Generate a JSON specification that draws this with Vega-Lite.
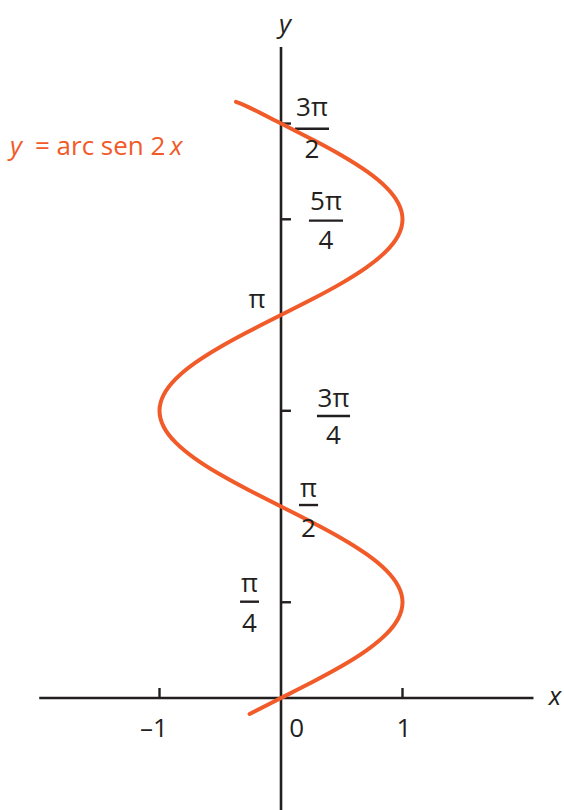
{
  "$schema": "https://vega.github.io/schema/vega-lite/v6.json",
  "width": 564,
  "height": 810,
  "autosize": {"type": "none"},
  "padding": 0,
  "background": "white",
  "config": {"view": {"stroke": null}},
  "datasets": {
    "axes": [
      {"x1": -1.99, "x2": 2.078, "y1": 0, "y2": 0},
      {"x1": 0, "x2": 0, "y1": -0.93, "y2": 5.34}
    ],
    "ticks": [
      {"x1": -1, "x2": -1, "y1": 0, "y2": 0.082},
      {"x1": 1, "x2": 1, "y1": 0, "y2": 0.082},
      {"x1": 0, "x2": 0.082, "y1": 0.7854, "y2": 0.7854},
      {"x1": 0, "x2": 0.082, "y1": 2.3562, "y2": 2.3562},
      {"x1": 0, "x2": 0.082, "y1": 3.9270, "y2": 3.9270},
      {"x1": 0, "x2": 0.082, "y1": 4.7124, "y2": 4.7124}
    ],
    "bars": [
      {"x1": 0.115, "x2": 0.395, "y1": 4.670, "y2": 4.670},
      {"x1": 0.230, "x2": 0.510, "y1": 3.916, "y2": 3.916},
      {"x1": 0.296, "x2": 0.568, "y1": 2.313, "y2": 2.313},
      {"x1": 0.148, "x2": 0.305, "y1": 1.583, "y2": 1.583},
      {"x1": -0.337, "x2": -0.181, "y1": 0.790, "y2": 0.790}
    ],
    "labels": [
      {"x": 0.255, "y": 4.774, "t": "3π"},
      {"x": 0.255, "y": 4.430, "t": "2"},
      {"x": 0.370, "y": 4.003, "t": "5π"},
      {"x": 0.370, "y": 3.683, "t": "4"},
      {"x": -0.198, "y": 3.199, "t": "π"},
      {"x": 0.432, "y": 2.387, "t": "3π"},
      {"x": 0.432, "y": 2.084, "t": "4"},
      {"x": 0.226, "y": 1.649, "t": "π"},
      {"x": 0.226, "y": 1.321, "t": "2"},
      {"x": -0.259, "y": 0.870, "t": "π"},
      {"x": -0.259, "y": 0.541, "t": "4"},
      {"x": -1.045, "y": -0.320, "t": "–1"},
      {"x": 0.129, "y": -0.320, "t": "0"},
      {"x": 1.012, "y": -0.320, "t": "1"}
    ],
    "axisnames": [
      {"x": 2.255, "y": -0.057, "t": "x"},
      {"x": 0.033, "y": 5.455, "t": "y"}
    ],
    "titleItalic": [
      {"x": -2.230, "y": 4.454, "t": "y"},
      {"x": -0.914, "y": 4.454, "t": "x"}
    ],
    "titleText": [
      {"x": -2.025, "y": 4.454, "t": "= arc sen 2"}
    ],
    "curve": [
      {"k": -1, "x": -0.2588, "y": -0.1309},
      {"k": 0, "x": 0, "y": 0},
      {"k": 1, "x": 0.2588, "y": 0.1309},
      {"k": 2, "x": 0.5, "y": 0.2618},
      {"k": 3, "x": 0.7071, "y": 0.3927},
      {"k": 4, "x": 0.8660, "y": 0.5236},
      {"k": 5, "x": 0.9659, "y": 0.6545},
      {"k": 6, "x": 1, "y": 0.7854},
      {"k": 7, "x": 0.9659, "y": 0.9163},
      {"k": 8, "x": 0.8660, "y": 1.0472},
      {"k": 9, "x": 0.7071, "y": 1.1781},
      {"k": 10, "x": 0.5, "y": 1.3090},
      {"k": 11, "x": 0.2588, "y": 1.4399},
      {"k": 12, "x": 0, "y": 1.5708},
      {"k": 13, "x": -0.2588, "y": 1.7017},
      {"k": 14, "x": -0.5, "y": 1.8326},
      {"k": 15, "x": -0.7071, "y": 1.9635},
      {"k": 16, "x": -0.8660, "y": 2.0944},
      {"k": 17, "x": -0.9659, "y": 2.2253},
      {"k": 18, "x": -1, "y": 2.3562},
      {"k": 19, "x": -0.9659, "y": 2.4871},
      {"k": 20, "x": -0.8660, "y": 2.6180},
      {"k": 21, "x": -0.7071, "y": 2.7489},
      {"k": 22, "x": -0.5, "y": 2.8798},
      {"k": 23, "x": -0.2588, "y": 3.0107},
      {"k": 24, "x": 0, "y": 3.1416},
      {"k": 25, "x": 0.2588, "y": 3.2725},
      {"k": 26, "x": 0.5, "y": 3.4034},
      {"k": 27, "x": 0.7071, "y": 3.5343},
      {"k": 28, "x": 0.8660, "y": 3.6652},
      {"k": 29, "x": 0.9659, "y": 3.7961},
      {"k": 30, "x": 1, "y": 3.9270},
      {"k": 31, "x": 0.9659, "y": 4.0579},
      {"k": 32, "x": 0.8660, "y": 4.1888},
      {"k": 33, "x": 0.7071, "y": 4.3197},
      {"k": 34, "x": 0.5, "y": 4.4506},
      {"k": 35, "x": 0.2588, "y": 4.5815},
      {"k": 36, "x": 0, "y": 4.7124},
      {"k": 37, "x": -0.2588, "y": 4.8433},
      {"k": 38, "x": -0.37, "y": 4.89}
    ]
  },
  "layer": [
    {
      "data": {"name": "axes"},
      "mark": {"type": "rule", "strokeWidth": 2.6, "color": "#231f20"},
      "encoding": {
        "x": {"field": "x1", "type": "quantitative", "scale": {"domain": [-2.3128, 2.3292], "nice": false, "zero": false}, "axis": null},
        "x2": {"field": "x2"},
        "y": {"field": "y1", "type": "quantitative", "scale": {"domain": [-0.9188, 5.726], "nice": false, "zero": false}, "axis": null},
        "y2": {"field": "y2"}
      }
    },
    {
      "data": {"name": "ticks"},
      "mark": {"type": "rule", "strokeWidth": 2.4, "color": "#231f20"},
      "encoding": {
        "x": {"field": "x1", "type": "quantitative"},
        "x2": {"field": "x2"},
        "y": {"field": "y1", "type": "quantitative"},
        "y2": {"field": "y2"}
      }
    },
    {
      "data": {"name": "bars"},
      "mark": {"type": "rule", "strokeWidth": 2.4, "color": "#231f20"},
      "encoding": {
        "x": {"field": "x1", "type": "quantitative"},
        "x2": {"field": "x2"},
        "y": {"field": "y1", "type": "quantitative"},
        "y2": {"field": "y2"}
      }
    },
    {
      "data": {"name": "curve"},
      "mark": {"type": "line", "color": "#f15a29", "strokeWidth": 4, "strokeCap": "round", "interpolate": "natural"},
      "encoding": {
        "x": {"field": "x", "type": "quantitative"},
        "y": {"field": "y", "type": "quantitative"},
        "order": {"field": "k", "type": "quantitative"}
      }
    },
    {
      "data": {"name": "labels"},
      "mark": {"type": "text", "font": "Open Sans", "fontSize": 26, "align": "center", "baseline": "alphabetic", "color": "#231f20"},
      "encoding": {
        "x": {"field": "x", "type": "quantitative"},
        "y": {"field": "y", "type": "quantitative"},
        "text": {"field": "t"}
      }
    },
    {
      "data": {"name": "axisnames"},
      "mark": {"type": "text", "font": "Open Sans", "fontSize": 26, "fontStyle": "italic", "align": "center", "baseline": "alphabetic", "color": "#231f20"},
      "encoding": {
        "x": {"field": "x", "type": "quantitative"},
        "y": {"field": "y", "type": "quantitative"},
        "text": {"field": "t"}
      }
    },
    {
      "data": {"name": "titleItalic"},
      "mark": {"type": "text", "font": "Open Sans", "fontSize": 26, "fontStyle": "italic", "align": "left", "baseline": "alphabetic", "color": "#f15a29"},
      "encoding": {
        "x": {"field": "x", "type": "quantitative"},
        "y": {"field": "y", "type": "quantitative"},
        "text": {"field": "t"}
      }
    },
    {
      "data": {"name": "titleText"},
      "mark": {"type": "text", "font": "Open Sans", "fontSize": 26, "align": "left", "baseline": "alphabetic", "color": "#f15a29"},
      "encoding": {
        "x": {"field": "x", "type": "quantitative"},
        "y": {"field": "y", "type": "quantitative"},
        "text": {"field": "t"}
      }
    }
  ]
}
